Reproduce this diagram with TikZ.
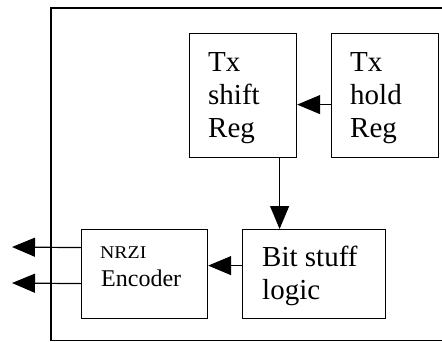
\documentclass[tikz,border=0pt]{standalone}
\usepackage{fontspec}
\setmainfont{Liberation Serif}
\usetikzlibrary{arrows.meta}
\begin{document}
\begin{tikzpicture}[x=1pt,y=-1pt,
  box/.style={draw,line width=1.2pt,minimum width=#1,inner sep=0pt,anchor=north west},
  big/.style={font=\fontsize{29}{33}\selectfont,anchor=base west,inner sep=0pt},
  mid/.style={font=\fontsize{24}{28}\selectfont,anchor=base west,inner sep=0pt},
  arr/.style={line width=1.2pt,-{Triangle[length=23pt,width=19pt]}}]
\useasboundingbox (0,0) rectangle (442,341);
\clip (0,0) rectangle (442,341);
\fill[white] (0,0) rectangle (442,341);
% frame
\draw[line width=1.3pt] (460,8) -- (51,8) -- (51,340.4) -- (460,340.4);
% boxes
\node[box=107pt,minimum height=124pt] (shift) at (189,33) {};
\node[box=107pt,minimum height=124pt] (hold) at (331,33) {};
\node[box=143pt,minimum height=89pt] (bit) at (242,229) {};
\node[box=126pt,minimum height=89pt] (nrzi) at (81,229) {};
% texts
\node[big] (s1) at (208,71) {Tx};
\node[big] (s2) at (208,104) {shift};
\node[big] (s3) at (208,137) {Reg};
\node[big] (h1) at (350,71) {Tx};
\node[big] (h2) at (350,104) {hold};
\node[big] (h3) at (350,137) {Reg};
\node[big] (b1) at (262,266) {Bit stuff};
\node[big] (b2) at (262,299) {logic};
\node[anchor=base west,inner sep=0pt,font=\fontsize{18}{20}\selectfont] (n1) at (100,258) {\scalebox{1.1}[1]{NRZI}};
\node[mid] (n2) at (101,286) {Encoder};
% connectors
\draw[arr] ([yshift=-9pt]hold.west) -- ([yshift=-9pt]shift.east);
\draw[arr] ([xshift=36.5pt]shift.south) -- ([xshift=36.5pt]shift.south |- bit.north);
\draw[arr] ([yshift=8.5pt]bit.west) -- ([yshift=8.5pt]nrzi.east);
\coordinate (o1) at (12,247);
\coordinate (o2) at (12,283);
\draw[arr] ([yshift=26.5pt]nrzi.west) -- (o1);
\draw[arr] ([yshift=-9.5pt]nrzi.west) -- (o2);
\end{tikzpicture}
\end{document}
